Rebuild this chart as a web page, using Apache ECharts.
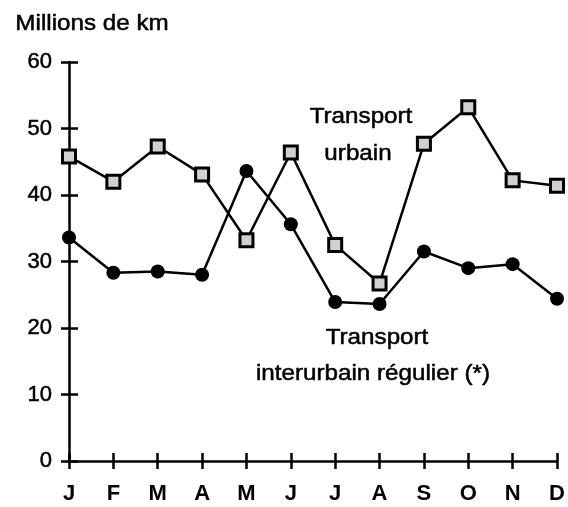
<!DOCTYPE html>
<html><head><meta charset="utf-8">
<script src="https://cdn.jsdelivr.net/npm/echarts@6/dist/echarts.min.js"></script>
<style>html,body{margin:0;padding:0;background:#fff}#c{width:568px;height:507px}</style>
</head><body><div id="c"></div>
<script>
const months = ['J','F','M','A','M','J','J','A','S','O','N','D'];
const urbain = [45.8, 42.0, 47.3, 43.1, 33.2, 46.4, 32.5, 26.7, 47.7, 53.2, 42.2, 41.4];
const interurbain = [33.6, 28.3, 28.5, 28.0, 43.6, 35.6, 23.9, 23.6, 31.5, 29.0, 29.6, 24.4];
const yTicks = [0, 10, 20, 30, 40, 50, 60];

const FONT = '"Liberation Sans", Arial, sans-serif';
const chart = echarts.init(document.getElementById('c'));
const axisLine = {show: true, lineStyle: {color: '#000', width: 2.5}};
function label(text, x, y, size) {
  return {type: 'text', x: x, y: y, scaleX: 1.1, scaleY: 1,
    style: {text: text, fontFamily: FONT, fontSize: size, fill: '#000',
      stroke: '#000', lineWidth: 0.5,
      align: 'center', verticalAlign: 'middle'}};
}
chart.setOption({
  animation: false,
  backgroundColor: '#fff',
  grid: {left: 69, right: 11, top: 62, bottom: 46},
  xAxis: [{
    type: 'category', data: months, boundaryGap: false,
    axisLine: axisLine,
    axisTick: {show: true, length: 8, lineStyle: {color: '#000', width: 2.5}},
    axisLabel: {fontFamily: FONT, fontSize: 22, color: '#000', margin: 22, fontWeight: 'bold'},
    splitLine: {show: false}
  }, {
    type: 'category', data: months, boundaryGap: false, position: 'bottom',
    axisLine: {show: false},
    axisTick: {show: true, inside: true, length: 8, lineStyle: {color: '#000', width: 2.5}},
    axisLabel: {show: false}, splitLine: {show: false}
  }],
  yAxis: [{
    type: 'value', min: 0, max: 60, interval: 10,
    axisLine: axisLine,
    axisTick: {show: true, length: 8, lineStyle: {color: '#000', width: 2.5}},
    axisLabel: {fontFamily: FONT, fontSize: 22, color: '#000', margin: 17,
      textBorderColor: '#000', textBorderWidth: 0.5,
      formatter: v => yTicks.includes(v) ? String(v) : ''},
    splitLine: {show: false}
  }, {
    type: 'value', min: 0, max: 60, interval: 10, position: 'left',
    axisLine: {show: false},
    axisTick: {show: true, inside: true, length: 9, lineStyle: {color: '#000', width: 2.5}},
    axisLabel: {show: false}, splitLine: {show: false}
  }],
  series: [{
    name: 'Transport urbain', type: 'line', data: urbain,
    symbol: 'rect', symbolSize: 13,
    lineStyle: {color: '#000', width: 2.5},
    itemStyle: {color: '#d0d0d0', borderColor: '#000', borderWidth: 3},
    z: 3
  }, {
    name: 'Transport interurbain régulier (*)', type: 'line', data: interurbain,
    symbol: 'circle', symbolSize: 14,
    lineStyle: {color: '#000', width: 2.5},
    itemStyle: {color: '#000', borderColor: '#000', borderWidth: 0},
    z: 3
  }],
  graphic: [
    label('Millions de km', 92, 24, 22),
    label('Transport', 361, 117, 22),
    label('urbain', 358, 154, 22),
    label('Transport', 377, 338, 22),
    label('interurbain régulier (*)', 373, 374, 22)
  ]
});
</script></body></html>
